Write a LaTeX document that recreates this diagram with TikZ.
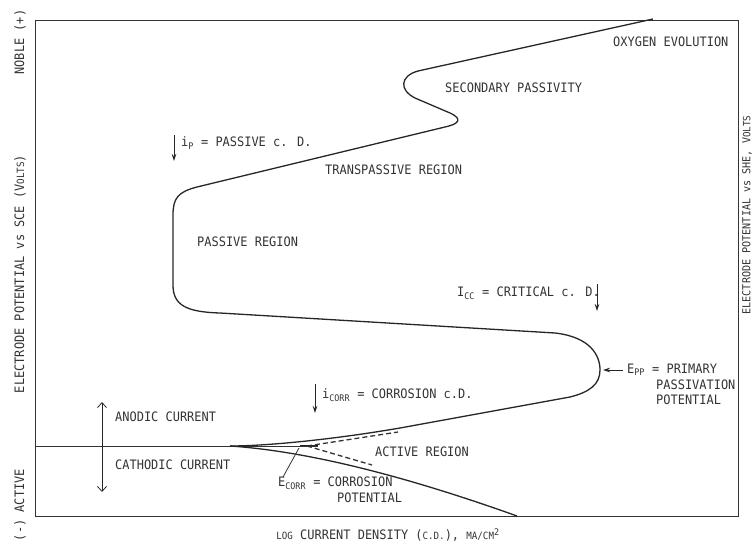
\documentclass[tikz,border=0pt]{standalone}
\usepackage{fontspec}
\setmainfont{DejaVu Sans Mono}[FakeStretch=0.92]
\usetikzlibrary{arrows.meta}
\newcommand\smc[1]{{\fontsize{10}{12}\selectfont #1}}
\begin{document}
\begin{tikzpicture}[x=1pt,y=-1pt,
  lbl/.style={font=\fontsize{13}{14}\selectfont, inner sep=0pt, anchor=west, text=black!80},
  vlbl/.style={lbl, rotate=90, anchor=center},
  curve/.style={line width=1.3pt, black!85, line join=round},
  thinline/.style={line width=0.8pt, black!80},
  dashline/.style={line width=1.3pt, black!80, dash pattern=on 5pt off 3pt},
  arr/.style={-{Stealth[length=7pt,width=4.5pt]}, line width=0.8pt, black!85},
  dblarr/.style={{Straight Barb[length=5pt,width=9pt]}-{Straight Barb[length=5pt,width=9pt]}, line width=0.8pt, black!85}
]
\useasboundingbox (0,0) rectangle (755,549);

% frame and zero-current axis
\draw[thinline] (35,20) rectangle (738,516);
\coordinate (ax0) at (35,446);
\coordinate (ax1) at (318,446);
\draw[thinline] (ax0) -- (ax1);

% anodic polarization curve
\draw[curve] (653,19) -- (418,71)
  .. controls (400,76) and (399,90) .. (415,98)
  -- (450,113)
  .. controls (463,119) and (459,124) .. (445,127)
  -- (197,187)
  .. controls (178,192) and (173,198) .. (173,215)
  -- (173,285)
  .. controls (173,305) and (186,312) .. (220,313)
  -- (555,333)
  .. controls (590,337) and (600,355) .. (600,370)
  .. controls (600,384) and (590,392) .. (570,397)
  -- (400,428)
  .. controls (330,440) and (265,446) .. (230,446);

% cathodic curve
\draw[curve] (230,446) .. controls (290,450) and (380,467) .. (517,516);

% extrapolated Tafel lines
\coordinate (ecp) at (307,446);
\coordinate (da) at (398,432);
\coordinate (dc) at (372,465);
\draw[dashline] (ecp) -- (da);
\draw[dashline] (ecp) -- (dc);
\draw[line width=1.8pt, black!85] (300,445.5) -- (318,445.5);
\coordinate (ecl0) at (283,477);
\coordinate (ecl1) at (299,448);
\draw[thinline] (ecl0) -- (ecl1);

% axis labels
\node[vlbl] (noble) at (20,42) {NOBLE (+)};
\node[vlbl] (ylab) at (20,274) {ELECTRODE POTENTIAL vs SCE (V\smc{OLTS})};
\node[vlbl] (active) at (20,505) {(-) ACTIVE};
\node[vlbl, font=\fontsize{11}{12}\selectfont] (ylab2) at (747,215) {ELECTRODE POTENTIAL vs SHE, V\smc{OLTS}};
\node[lbl, anchor=center] (xlab) at (388,535) {\smc{LOG} CURRENT DENSITY (\smc{C.D.}), \smc{MA/CM}\textsuperscript{2}};

% region labels
\node[lbl] (oxy) at (613,42) {OXYGEN EVOLUTION};
\node[lbl] (sec) at (445,88) {SECONDARY PASSIVITY};
\node[lbl] (trans) at (325,170) {TRANSPASSIVE REGION};
\node[lbl] (passive) at (197,242) {PASSIVE REGION};
\node[lbl] (actreg) at (375,452) {ACTIVE REGION};

% i_P
\coordinate (ip1) at (174,135);
\coordinate (ip2) at (174,161);
\draw[arr] (ip1) -- (ip2);
\node[lbl] (ip) at (181,143) {i\textsubscript{P} = PASSIVE c. D.};

% I_CC
\node[lbl] (icc) at (457,293) {I\textsubscript{CC} = CRITICAL c. D.};
\coordinate (icc1) at (597,284);
\coordinate (icc2) at (597,311);
\draw[arr] (icc1) -- (icc2);

% E_PP
\coordinate (epp1) at (623,370);
\coordinate (epp2) at (603,370);
\draw[arr] (epp1) -- (epp2);
\node[lbl] (epp) at (627,370) {E\textsubscript{PP} = PRIMARY};
\node[lbl] (eppb) at (656,385) {PASSIVATION};
\node[lbl] (eppc) at (656,400) {POTENTIAL};

% i_CORR
\coordinate (ic1) at (315,384);
\coordinate (ic2) at (315,413);
\draw[arr] (ic1) -- (ic2);
\node[lbl] (icorr) at (322,395) {i\textsubscript{CORR} = CORROSION c.D.};

% anodic / cathodic
\coordinate (ac1) at (102,402);
\coordinate (ac2) at (102,492);
\draw[dblarr] (ac1) -- (ac2);
\node[lbl] (anodic) at (115,417) {ANODIC CURRENT};
\node[lbl] (cath) at (115,465) {CATHODIC CURRENT};

% E_CORR
\node[lbl] (ecorr) at (278,483) {E\textsubscript{CORR} = CORROSION};
\node[lbl] (ecorrb) at (337,498) {POTENTIAL};
\end{tikzpicture}
\end{document}
